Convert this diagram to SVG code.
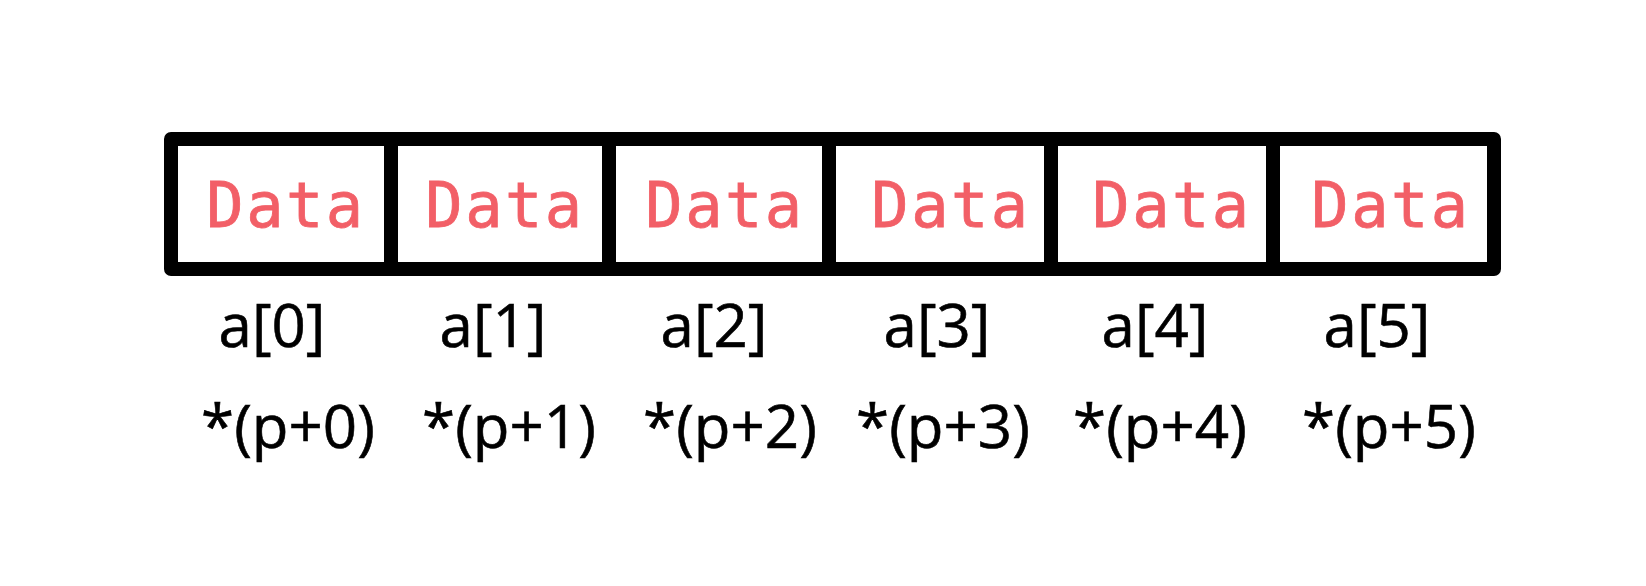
<svg xmlns="http://www.w3.org/2000/svg" width="1646" height="586" viewBox="0 0 1646 586">
<style>
.cell{fill:#fff;stroke:#000;stroke-width:14;stroke-linejoin:round}
.data{font-family:"DejaVu Sans Mono","Liberation Mono",monospace;font-size:62px;letter-spacing:2.5px;fill:#f25f67;stroke:#f25f67;stroke-width:0.8;text-anchor:middle}
.lbl{font-family:"Open Sans","Noto Sans",sans-serif;font-size:60px;fill:#000;text-anchor:middle;stroke:#000;stroke-width:0.6}
</style>
<rect width="1646" height="586" fill="#fff"/>
<g id="connectors"></g>
<g id="cell0"><rect class="cell" x="171" y="139" width="220" height="130"/><text class="data" x="286" y="227">Data</text><text class="lbl" x="272" y="347">a[0]</text><text class="lbl" x="288" y="448">*(p+0)</text></g>
<g id="cell1"><rect class="cell" x="391" y="139" width="218" height="130"/><text class="data" x="505" y="227">Data</text><text class="lbl" x="493" y="347">a[1]</text><text class="lbl" x="509" y="448">*(p+1)</text></g>
<g id="cell2"><rect class="cell" x="609" y="139" width="220" height="130"/><text class="data" x="725" y="227">Data</text><text class="lbl" x="714" y="347">a[2]</text><text class="lbl" x="730" y="448">*(p+2)</text></g>
<g id="cell3"><rect class="cell" x="829" y="139" width="222" height="130"/><text class="data" x="951" y="227">Data</text><text class="lbl" x="937" y="347">a[3]</text><text class="lbl" x="943" y="448">*(p+3)</text></g>
<g id="cell4"><rect class="cell" x="1051" y="139" width="222" height="130"/><text class="data" x="1172" y="227">Data</text><text class="lbl" x="1155" y="347">a[4]</text><text class="lbl" x="1160" y="448">*(p+4)</text></g>
<g id="cell5"><rect class="cell" x="1273" y="139" width="221" height="130"/><text class="data" x="1391" y="227">Data</text><text class="lbl" x="1377" y="347">a[5]</text><text class="lbl" x="1389" y="448">*(p+5)</text></g>
</svg>
